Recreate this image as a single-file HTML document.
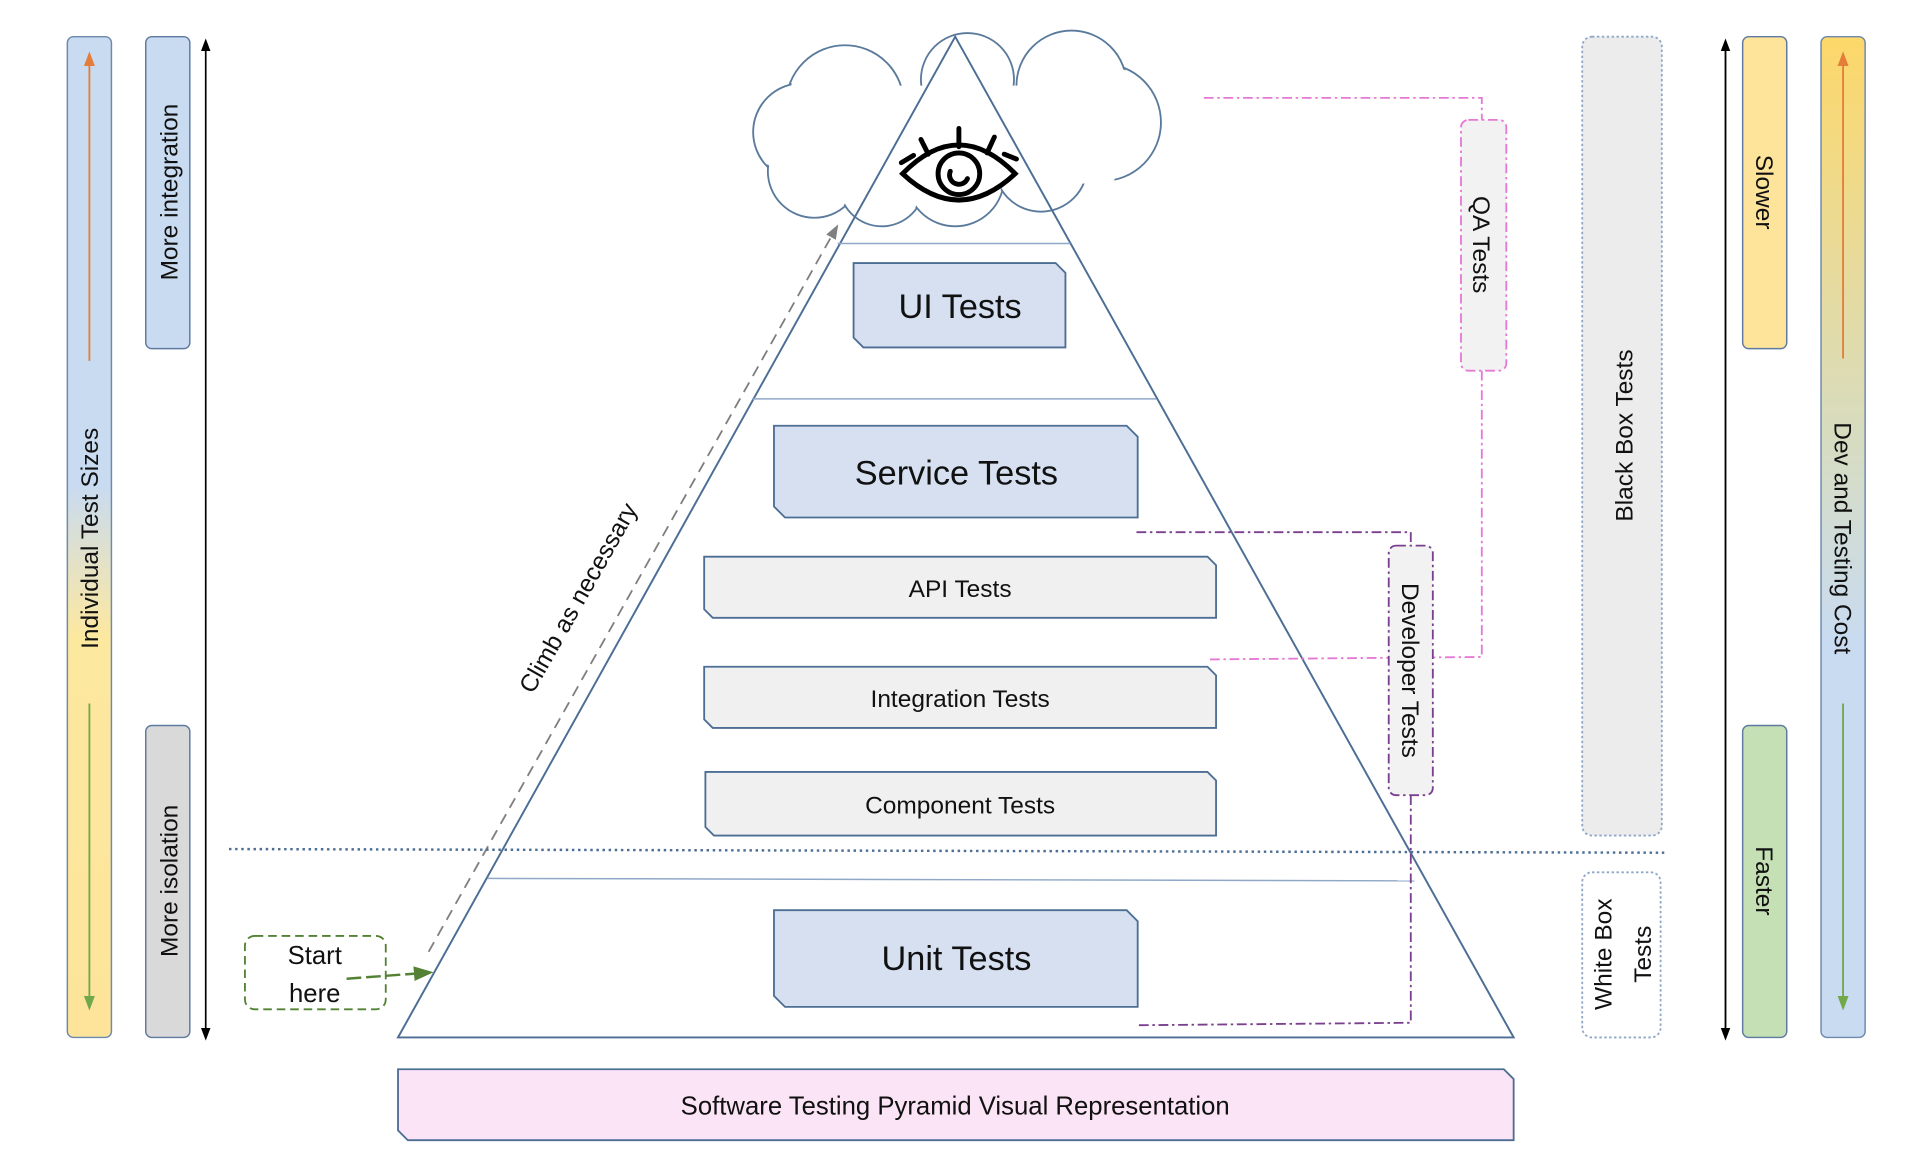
<!DOCTYPE html>
<html><head><meta charset="utf-8"><style>
html,body{margin:0;padding:0;background:#fff;}
svg{display:block;}
text{font-family:"Liberation Sans","DejaVu Sans",sans-serif;fill:#111;}
</style></head><body>
<svg width="1919" height="1150" viewBox="0 0 1567 940" preserveAspectRatio="none" xmlns="http://www.w3.org/2000/svg">
<defs>
<linearGradient id="gL" x1="0" y1="0" x2="0" y2="1">
<stop offset="0" stop-color="#c9dbf0"/><stop offset="0.45" stop-color="#c9dbf0"/><stop offset="0.6" stop-color="#fde8a0"/><stop offset="1" stop-color="#fde49a"/></linearGradient>
<linearGradient id="gR" x1="0" y1="0" x2="0" y2="1">
<stop offset="0" stop-color="#fdd86a"/><stop offset="0.4" stop-color="#d7dcc0"/><stop offset="0.6" stop-color="#c9dbf0"/><stop offset="1" stop-color="#c9dbf0"/></linearGradient>
<marker id="aO" markerWidth="8" markerHeight="8" refX="4" refY="4" orient="auto"><path d="M0,1 L8,4 L0,7z" fill="#e57d3a"/></marker>
<marker id="aG" markerWidth="8" markerHeight="8" refX="4" refY="4" orient="auto"><path d="M0,1 L8,4 L0,7z" fill="#70a84a"/></marker>
<marker id="aK" markerWidth="8" markerHeight="8" refX="6" refY="4" orient="auto"><path d="M0,1 L8,4 L0,7z" fill="#000"/></marker>
<marker id="aGr" markerWidth="8" markerHeight="8" refX="6" refY="4" orient="auto"><path d="M0,1 L8,4 L0,7z" fill="#808080"/></marker>
<marker id="aDG" markerWidth="8" markerHeight="8" refX="6" refY="4" orient="auto"><path d="M0,1 L8,4 L0,7z" fill="#548235"/></marker>
</defs>

<rect x="55" y="30" width="36" height="818" rx="5" fill="url(#gL)" stroke="#6d89ad" stroke-width="1.2"/>
<line x1="73" y1="295" x2="73" y2="48" stroke="#e57d3a" stroke-width="1.5" marker-end="url(#aO)"/>
<line x1="73" y1="575" x2="73" y2="820" stroke="#70a84a" stroke-width="1.5" marker-end="url(#aG)"/>
<text transform="translate(80,440) rotate(-90)" text-anchor="middle" font-size="20">Individual Test Sizes</text>
<rect x="119" y="30" width="36" height="255" rx="5" fill="#c9dbf0" stroke="#5e7aa0" stroke-width="1.2"/>
<text transform="translate(145,157) rotate(-90)" text-anchor="middle" font-size="20">More integration</text>
<rect x="119" y="593" width="36" height="255" rx="5" fill="#d9d9d9" stroke="#5e7aa0" stroke-width="1.2"/>
<text transform="translate(145,720) rotate(-90)" text-anchor="middle" font-size="20">More isolation</text>
<line x1="168" y1="846" x2="168" y2="34" stroke="#000" stroke-width="1.3" marker-end="url(#aK)"/>
<line x1="168" y1="40" x2="168" y2="848" stroke="#000" stroke-width="1.3" marker-end="url(#aK)"/>

<g stroke="#5a7a9c" stroke-width="1.5" fill="#fff">
<circle cx="690" cy="85" r="48"/><circle cx="655" cy="108" r="40"/><circle cx="665" cy="140" r="38"/>
<circle cx="720" cy="150" r="35"/><circle cx="780" cy="145" r="40"/><circle cx="850" cy="135" r="38"/>
<circle cx="900" cy="100" r="48"/><circle cx="875" cy="70" r="45"/><circle cx="790" cy="65" r="38"/>
</g>
<g fill="#fff">
<circle cx="690" cy="85" r="46.5"/><circle cx="655" cy="108" r="38.5"/><circle cx="665" cy="140" r="36.5"/>
<circle cx="720" cy="150" r="33.5"/><circle cx="780" cy="145" r="38.5"/><circle cx="850" cy="135" r="36.5"/>
<circle cx="900" cy="100" r="46.5"/><circle cx="875" cy="70" r="43.5"/><circle cx="790" cy="65" r="36.5"/>
<rect x="660" y="70" width="250" height="80"/>
</g>

<polygon points="780,30 325,848 1236,848" fill="none" stroke="#4d6e94" stroke-width="1.6"/>
<line x1="684" y1="199" x2="874" y2="199" stroke="#8fa8c8" stroke-width="1.2"/>
<line x1="614" y1="326" x2="944" y2="326" stroke="#8fa8c8" stroke-width="1.2"/>
<line x1="398" y1="718" x2="1155" y2="720" stroke="#8fa8c8" stroke-width="1.2"/>

<g stroke="#000" stroke-width="4" fill="none" stroke-linecap="round">
<path d="M737,142 Q783,95 829,142 Q783,185 737,142z"/>
<circle cx="783" cy="142" r="17"/>
<path d="M776,140 A7,7 0 0 0 790,146"/>
<line x1="736" y1="133" x2="746" y2="127"/><line x1="752" y1="114" x2="758" y2="126"/>
<line x1="783" y1="105" x2="783" y2="120"/><line x1="812" y1="112" x2="806" y2="125"/><line x1="830" y1="130" x2="820" y2="126"/>
</g>

<line x1="350" y1="778" x2="683" y2="186" stroke="#808080" stroke-width="1.5" stroke-dasharray="9,6" marker-end="url(#aGr)"/>
<text transform="translate(478,492) rotate(-60.5)" text-anchor="middle" font-size="20">Climb as necessary</text>

<g stroke="#4d6e94" stroke-width="1.5">
<path d="M697,215 L862,215 L870,223 L870,284 L705,284 L697,276z" fill="#d6e0f0"/>
<path d="M632,348 L920,348 L929,357 L929,423 L641,423 L632,414z" fill="#d6e0f0"/>
<path d="M575,455 L986,455 L993,462 L993,505 L582,505 L575,498z" fill="#f0f0f0"/>
<path d="M575,545 L986,545 L993,552 L993,595 L582,595 L575,588z" fill="#f0f0f0"/>
<path d="M576,631 L986,631 L993,638 L993,683 L583,683 L576,676z" fill="#f0f0f0"/>
<path d="M632,744 L920,744 L929,753 L929,823 L641,823 L632,814z" fill="#d6e0f0"/>
<path d="M325,874 L1228,874 L1236,882 L1236,932 L333,932 L325,924z" fill="#fbe4f6"/>
</g>
<text x="784" y="260" text-anchor="middle" font-size="28">UI Tests</text>
<text x="781" y="396" text-anchor="middle" font-size="28">Service Tests</text>
<text x="784" y="488" text-anchor="middle" font-size="20">API Tests</text>
<text x="784" y="578" text-anchor="middle" font-size="20">Integration Tests</text>
<text x="784" y="665" text-anchor="middle" font-size="20">Component Tests</text>
<text x="781" y="793" text-anchor="middle" font-size="28">Unit Tests</text>
<text x="780" y="911" text-anchor="middle" font-size="21">Software Testing Pyramid Visual Representation</text>

<line x1="187" y1="694" x2="1360" y2="697" stroke="#4d6e94" stroke-width="2" stroke-dasharray="2,3"/>

<rect x="200" y="765" width="115" height="60" rx="8" fill="#fff" stroke="#548235" stroke-width="1.5" stroke-dasharray="7,4"/>
<text x="257" y="788" text-anchor="middle" font-size="21">Start</text>
<text x="257" y="819" text-anchor="middle" font-size="21">here</text>
<line x1="283" y1="800" x2="350" y2="795" stroke="#548235" stroke-width="2" stroke-dasharray="12,4" marker-end="url(#aDG)"/>

<polyline points="983,80 1210,80 1210,98" fill="none" stroke="#e679d6" stroke-width="1.5" stroke-dasharray="8,3,2,3"/>
<polyline points="1210,303 1210,537 987,539" fill="none" stroke="#e679d6" stroke-width="1.5" stroke-dasharray="8,3,2,3"/>
<rect x="1193" y="98" width="37" height="205" rx="6" fill="#f2f2f2" stroke="#e679d6" stroke-width="1.5" stroke-dasharray="8,3,2,3"/>
<text transform="translate(1203,200) rotate(90)" text-anchor="middle" font-size="20">QA Tests</text>

<polyline points="928,435 1152,435 1152,446" fill="none" stroke="#7a3f8f" stroke-width="1.5" stroke-dasharray="8,3,2,3"/>
<polyline points="1152,650 1152,836 930,838" fill="none" stroke="#7a3f8f" stroke-width="1.5" stroke-dasharray="8,3,2,3"/>
<rect x="1134" y="446" width="36" height="204" rx="6" fill="#f2f2f2" stroke="#7a3f8f" stroke-width="1.5" stroke-dasharray="8,3,2,3"/>
<text transform="translate(1145,548) rotate(90)" text-anchor="middle" font-size="20">Developer Tests</text>

<rect x="1292" y="30" width="65" height="653" rx="8" fill="#ececec" stroke="#8fa8c8" stroke-width="1.5" stroke-dasharray="2,2"/>
<text transform="translate(1333,356) rotate(-90)" text-anchor="middle" font-size="20">Black Box Tests</text>
<rect x="1292" y="713" width="64" height="135" rx="8" fill="#fff" stroke="#8fa8c8" stroke-width="1.5" stroke-dasharray="2,2"/>
<text transform="translate(1316,780) rotate(-90)" text-anchor="middle" font-size="20">White Box</text>
<text transform="translate(1348,780) rotate(-90)" text-anchor="middle" font-size="20">Tests</text>

<line x1="1409" y1="846" x2="1409" y2="34" stroke="#000" stroke-width="1.3" marker-end="url(#aK)"/>
<line x1="1409" y1="40" x2="1409" y2="848" stroke="#000" stroke-width="1.3" marker-end="url(#aK)"/>
<rect x="1423" y="30" width="36" height="255" rx="5" fill="#fde49a" stroke="#5e7aa0" stroke-width="1.2"/>
<text transform="translate(1434,157) rotate(90)" text-anchor="middle" font-size="20">Slower</text>
<rect x="1423" y="593" width="36" height="255" rx="5" fill="#c5e0b4" stroke="#5e7aa0" stroke-width="1.2"/>
<text transform="translate(1434,720) rotate(90)" text-anchor="middle" font-size="20">Faster</text>
<rect x="1487" y="30" width="36" height="818" rx="5" fill="url(#gR)" stroke="#6d89ad" stroke-width="1.2"/>
<line x1="1505" y1="293" x2="1505" y2="48" stroke="#e57d3a" stroke-width="1.5" marker-end="url(#aO)"/>
<line x1="1505" y1="575" x2="1505" y2="820" stroke="#70a84a" stroke-width="1.5" marker-end="url(#aG)"/>
<text transform="translate(1498,440) rotate(90)" text-anchor="middle" font-size="20">Dev and Testing Cost</text>
</svg>
</body></html>
